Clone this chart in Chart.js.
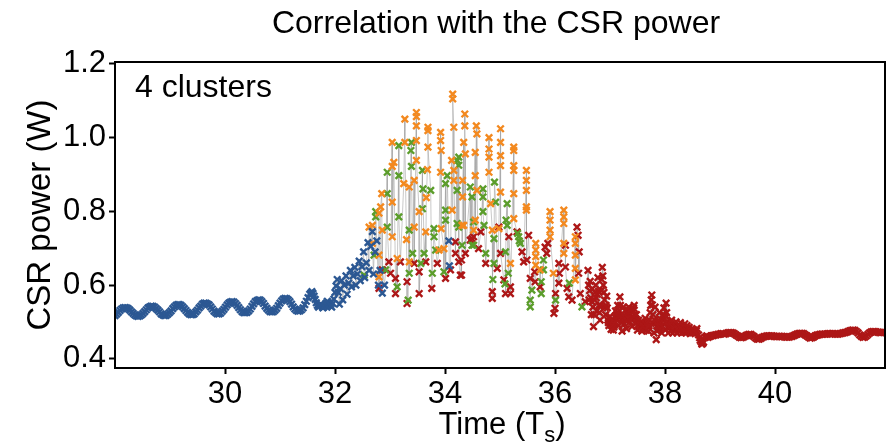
<!DOCTYPE html>
<html>
<head>
<meta charset="utf-8">
<script src="https://cdn.jsdelivr.net/npm/chart.js@4.4.1/dist/chart.umd.min.js"></script>
<style>
  html, body { margin: 0; padding: 0; background: #fff; }
  #wrap { width: 892px; height: 447px; }
</style>
</head>
<body>
<div id="wrap"><canvas id="c" width="892" height="447"></canvas></div>
<script>
// CSR power vs time, points coloured by cluster (4 clusters), thin grey trace through all samples.

const TITLE = 'Correlation with the CSR power';
const PANEL_LABEL = '4 clusters';
const X_TICKS = [30, 32, 34, 36, 38, 40];
const Y_TICKS = [0.4, 0.6, 0.8, 1.0, 1.2];

// [time (Ts), power (W)]
const blue = [
  [28.00,.517],[28.03,.521],[28.06,.526],[28.09,.531],[28.12,.535],[28.15,.538],[28.18,.539],[28.21,.538],
  [28.24,.536],[28.27,.532],[28.30,.527],[28.33,.523],[28.36,.519],[28.39,.516],[28.42,.515],[28.45,.516],
  [28.48,.519],[28.51,.523],[28.54,.528],[28.57,.533],[28.60,.538],[28.63,.541],[28.66,.543],[28.69,.542],
  [28.72,.540],[28.75,.536],[28.78,.532],[28.81,.527],[28.84,.522],[28.87,.519],[28.90,.517],[28.93,.518],
  [28.96,.521],[28.99,.525],[29.02,.530],[29.05,.536],[29.08,.541],[29.11,.545],[29.14,.547],[29.17,.547],
  [29.20,.545],[29.23,.541],[29.26,.536],[29.29,.531],[29.32,.526],[29.35,.522],[29.38,.520],[29.41,.520],
  [29.44,.522],[29.47,.527],[29.50,.532],[29.53,.538],[29.56,.543],[29.59,.548],[29.62,.551],[29.65,.551],
  [29.68,.549],[29.71,.546],[29.74,.541],[29.77,.535],[29.80,.529],[29.83,.525],[29.86,.522],[29.89,.522],
  [29.92,.524],[29.95,.529],[29.98,.534],[30.01,.540],[30.04,.546],[30.07,.551],[30.10,.554],[30.13,.555],
  [30.16,.554],[30.19,.550],[30.22,.545],[30.25,.539],[30.28,.533],[30.31,.528],[30.34,.525],[30.37,.525],
  [30.40,.526],[30.43,.530],[30.46,.535],[30.49,.542],[30.52,.549],[30.55,.555],[30.58,.558],[30.61,.560],
  [30.64,.559],[30.67,.555],[30.70,.550],[30.73,.543],[30.76,.537],[30.79,.532],[30.82,.528],[30.85,.527],
  [30.88,.528],[30.91,.532],[30.94,.537],[30.97,.544],[31.00,.551],[31.03,.557],[31.06,.562],[31.09,.564],
  [31.12,.563],[31.15,.560],[31.18,.555],[31.21,.548],[31.24,.541],[31.27,.535],[31.30,.531],[31.33,.529],
  [31.36,.530],[31.39,.533],[31.42,.538],[31.45,.547],[31.48,.556],[31.51,.566],[31.54,.575],[31.56,.579],
  [31.58,.582],[31.60,.577],[31.62,.570],[31.64,.561],[31.66,.552],[31.68,.545],[31.70,.540],[31.72,.544],
  [31.74,.548],[31.76,.543],[31.78,.538],[31.80,.541],[31.82,.545],[31.84,.551],[31.86,.556],[31.88,.552],
  [31.90,.548],[31.92,.544],[31.94,.540],[31.96,.550],[31.98,.562],[32.00,.580],[32.02,.598],
  [32.04,.615],[32.06,.580],[32.08,.548],[32.10,.590],[32.12,.612],[32.14,.560],[32.17,.600],[32.20,.625],
  [32.22,.575],[32.25,.605],[32.28,.640],[32.30,.595],[32.33,.625],[32.36,.648],[32.38,.600],[32.41,.630],
  [32.44,.665],[32.46,.612],[32.49,.650],[32.52,.690],[32.54,.620],[32.57,.660],[32.60,.715],[32.62,.640],
  [32.65,.705],[32.68,.745],[32.70,.630],[32.73,.690],[32.76,.720],[32.79,.600],[32.82,.640],[32.86,.578],
  [32.90,.600],[34.07,.720],[34.08,.652]
];

const orange = [
  [32.62,.757],[32.68,.762],[32.68,.713],[32.80,.795],[32.80,.681],[32.80,.622],[32.83,.812],[32.85,.848],
  [32.86,.749],[33.04,.987],[33.04,.922],[33.04,.825],[33.04,.731],[33.07,.933],[33.13,.672],[33.25,.875],
  [33.27,1.050],[33.27,.987],[33.30,.723],[33.35,.866],[33.35,.663],[33.44,.884],[33.44,.757],[33.48,1.068],
  [33.48,1.057],[33.48,1.032],[33.48,.992],[33.48,.938],[33.53,.799],[33.65,.744],[33.66,.837],[33.68,.913],
  [33.69,1.028],[33.69,1.019],[33.69,.974],[33.89,.695],[33.92,1.014],[33.92,.992],[33.92,.906],[33.93,.965],
  [33.93,.753],[33.98,.699],[34.12,.938],[34.13,.803],[34.14,1.118],[34.14,1.105],[34.16,1.028],[34.16,.911],
  [34.16,.884],[34.31,.762],[34.32,.884],[34.32,.839],[34.34,.987],[34.34,.762],[34.36,1.064],[34.36,1.032],
  [34.37,.956],[34.52,.749],[34.55,.960],[34.55,.897],[34.55,.776],[34.57,1.032],[34.58,1.010],[34.58,.857],
  [34.80,1.000],[34.80,.969],[34.80,.947],[34.80,.906],[34.83,.821],[34.86,.749],[34.98,.753],[35.01,1.024],
  [35.01,.987],[35.01,.951],[35.01,.924],[35.01,.852],[35.19,.659],[35.25,.974],[35.25,.965],[35.25,.924],
  [35.25,.911],[35.25,.848],[35.25,.780],[35.48,.911],[35.48,.884],[35.48,.857],[35.48,.812],[35.48,.803],
  [35.65,.713],[35.65,.695],[35.65,.677],[35.65,.654],[35.73,.641],[35.91,.799],[35.91,.776],[35.91,.749],
  [35.91,.731],[35.97,.632],[36.16,.803],[36.16,.785],[36.16,.767],[36.16,.713],[36.16,.686],[36.37,.731],
  [36.37,.713],[36.37,.681],[36.37,.645],[36.37,.614]
];

const green = [
  [32.53,.627],[32.71,.681],[32.74,.799],[32.74,.785],[32.92,.641],[32.95,.906],[32.95,.848],[32.95,.757],
  [33.13,.595],[33.16,.978],[33.16,.897],[33.16,.785],[33.33,.559],[33.35,.749],[33.35,.632],[33.38,.965],
  [33.39,.987],[33.39,.922],[33.41,.686],[33.56,.659],[33.59,.911],[33.59,.807],[33.60,.861],[33.62,.686],
  [33.74,.857],[33.77,.632],[33.80,.753],[33.80,.731],[33.83,.695],[33.98,.636],[34.01,.875],[34.01,.803],
  [34.01,.776],[34.04,.897],[34.22,.938],[34.22,.857],[34.22,.767],[34.25,.947],[34.25,.925],[34.25,.757],
  [34.31,.708],[34.46,.866],[34.49,.839],[34.49,.708],[34.52,.771],[34.52,.708],[34.69,.861],[34.69,.839],
  [34.69,.799],[34.71,.762],[34.74,.686],[34.87,.615],[34.89,.726],[34.89,.659],[34.90,.879],[34.92,.825],
  [35.09,.603],[35.10,.690],[35.11,.776],[35.13,.821],[35.13,.762],[35.15,.632],[35.32,.740],[35.34,.731],
  [35.35,.720],[35.37,.713],[35.55,.559],[35.55,.541],[35.58,.586],[35.75,.609],[35.75,.577],[35.79,.668],
  [35.79,.641],[36.01,.559],[36.26,.605],[36.49,.541]
];

const red = [
  [32.80,.591],[32.86,.641],[32.98,.663],[33.01,.632],[33.10,.618],[33.10,.577],[33.19,.663],[33.31,.609],
  [33.31,.550],[33.44,.659],[33.53,.636],[33.53,.577],[33.65,.663],[33.76,.591],[33.86,.659],[34.01,.618],
  [34.10,.641],[34.19,.717],[34.19,.686],[34.25,.663],[34.28,.627],[34.30,.668],[34.30,.627],[34.37,.686],
  [34.46,.722],[34.49,.726],[34.52,.731],[34.61,.699],[34.65,.744],[34.74,.659],[34.86,.582],[34.86,.564],
  [34.95,.645],[34.98,.757],[35.01,.686],[35.07,.614],[35.10,.577],[35.16,.731],[35.19,.595],[35.19,.577],
  [35.31,.744],[35.40,.690],[35.43,.663],[35.49,.668],[35.52,.735],[35.55,.618],[35.63,.636],[35.64,.609],
  [35.73,.595],[35.82,.703],[35.85,.686],[35.87,.713],[35.98,.523],[36.00,.537],[36.01,.577],[36.07,.659],
  [36.07,.605],[36.08,.632],[36.19,.708],[36.19,.649],[36.22,.591],[36.25,.568],[36.31,.559],[36.40,.757],
  [36.42,.735],[36.44,.690],[36.43,.632],[36.46,.577],[36.55,.555],
  [36.60,.640],[36.61,.600],[36.62,.560],[36.63,.585],[36.64,.610],[36.65,.565],[36.66,.520],[36.67,.555],
  [36.68,.590],[36.69,.540],[36.70,.487],[36.71,.520],[36.72,.560],[36.73,.580],[36.74,.600],[36.75,.565],
  [36.76,.530],[36.77,.575],[36.78,.620],[36.79,.583],[36.80,.545],[36.81,.525],[36.82,.505],[36.83,.545],
  [36.84,.585],[36.85,.615],[36.86,.648],[36.87,.625],[36.88,.600],[36.89,.580],[36.90,.560],[36.91,.540],
  [36.92,.520],[36.93,.545],[36.94,.570],[36.95,.538],[36.96,.505],[36.97,.498],[36.98,.490],
  [37.00,.515],[37.01,.498],[37.02,.480],[37.03,.490],[37.04,.500],[37.05,.488],[37.06,.478],[37.07,.486],
  [37.08,.495],[37.09,.512],[37.10,.530],[37.11,.518],[37.12,.505],[37.13,.525],[37.14,.545],[37.15,.515],
  [37.16,.490],[37.17,.530],[37.18,.568],[37.19,.545],[37.20,.520],[37.21,.498],[37.22,.475],[37.23,.508],
  [37.24,.540],[37.25,.518],[37.26,.495],[37.27,.512],[37.28,.530],[37.29,.505],[37.30,.482],[37.31,.503],
  [37.32,.525],[37.33,.532],[37.34,.540],[37.35,.520],[37.36,.500],[37.37,.518],[37.38,.535],[37.39,.512],
  [37.40,.488],[37.41,.508],[37.42,.530],[37.43,.537],[37.44,.545],[37.45,.520],[37.46,.495],[37.47,.508],
  [37.48,.520],[37.49,.499],[37.50,.478],[37.51,.490],[37.52,.505],[37.53,.494],[37.54,.483],[37.55,.492],
  [37.56,.500],[37.57,.488],[37.58,.475],[37.59,.486],[37.60,.498],[37.61,.489],[37.62,.480],[37.63,.495],
  [37.64,.510],[37.65,.494],[37.66,.478],[37.67,.489],[37.68,.500],[37.69,.488],[37.70,.475],[37.71,.490],
  [37.72,.505],[37.73,.525],[37.74,.545],[37.75,.560],[37.76,.573],[37.77,.546],[37.78,.520],[37.79,.495],
  [37.80,.470],[37.81,.505],[37.82,.540],[37.83,.496],[37.84,.452],[37.85,.476],[37.86,.500],[37.87,.490],
  [37.88,.480],[37.89,.502],[37.90,.525],[37.91,.508],[37.92,.490],[37.93,.480],[37.94,.470],[37.95,.488],
  [37.96,.505],[37.97,.521],[37.98,.538],[37.99,.509],[38.00,.480],[38.01,.515],[38.02,.551],[38.03,.525],
  [38.04,.500],[38.05,.485],[38.06,.470],[38.07,.483],[38.08,.495],[38.09,.487],[38.10,.478],[38.11,.492],
  [38.12,.505],[38.13,.488],[38.14,.470],[38.15,.480],[38.16,.490],[38.17,.483],[38.18,.475],[38.19,.488],
  [38.20,.500],[38.21,.485],[38.22,.470],[38.23,.481],[38.24,.492],[38.25,.484],[38.26,.475],[38.27,.487],
  [38.28,.498],[38.29,.484],[38.30,.470],[38.31,.479],[38.32,.488],[38.33,.480],[38.34,.472],[38.35,.484],
  [38.36,.495],[38.37,.483],[38.38,.470],[38.39,.480],[38.40,.490],[38.41,.483],[38.42,.475],[38.43,.480],
  [38.44,.485],[38.45,.477],[38.46,.468],[38.47,.474],[38.48,.480],[38.49,.475],[38.50,.470],[38.51,.474],
  [38.52,.478],[38.53,.474],[38.55,.470],[38.57,.476],[38.58,.482],[38.61,.465],[38.63,.457],[38.64,.450],
  [38.66,.445],[38.67,.440],[38.69,.442],[38.70,.445],[38.73,.458],[38.75,.460],[38.76,.462],
  [38.78,.458],[38.81,.460],[38.84,.462],[38.87,.463],[38.90,.464],[38.93,.465],[38.96,.466],[38.99,.467],
  [39.02,.468],[39.05,.468],[39.08,.467],[39.11,.468],[39.14,.470],[39.17,.471],[39.20,.471],[39.23,.470],
  [39.26,.468],[39.29,.465],[39.32,.462],[39.35,.459],[39.38,.457],[39.41,.458],[39.44,.460],[39.47,.463],
  [39.50,.465],[39.53,.466],[39.56,.466],[39.59,.463],[39.62,.460],[39.65,.456],[39.68,.453],[39.71,.453],
  [39.74,.455],[39.77,.458],[39.80,.460],[39.83,.461],[39.86,.462],[39.89,.462],[39.92,.462],[39.95,.462],
  [39.98,.461],[40.01,.460],[40.04,.460],[40.07,.461],[40.10,.461],[40.13,.461],[40.16,.460],[40.19,.459],
  [40.22,.459],[40.25,.459],[40.28,.460],[40.31,.461],[40.34,.463],[40.37,.465],[40.40,.467],[40.43,.468],
  [40.46,.469],[40.49,.469],[40.52,.468],[40.55,.465],[40.58,.462],[40.61,.459],[40.64,.456],[40.67,.457],
  [40.70,.459],[40.73,.462],[40.76,.464],[40.79,.465],[40.82,.466],[40.85,.467],[40.88,.467],[40.91,.467],
  [40.94,.467],[40.97,.468],[41.00,.468],[41.03,.468],[41.06,.468],[41.09,.467],[41.12,.467],[41.15,.467],
  [41.18,.468],[41.21,.469],[41.24,.470],[41.27,.471],[41.30,.472],[41.33,.474],[41.36,.476],[41.39,.477],
  [41.42,.478],[41.45,.477],[41.48,.474],[41.51,.470],[41.54,.465],[41.57,.461],[41.60,.458],[41.63,.459],
  [41.66,.462],[41.69,.466],[41.72,.470],[41.75,.473],[41.78,.474],[41.81,.474],[41.84,.473],[41.87,.472],
  [41.90,.471],[41.93,.471],[41.96,.472],[41.99,.472]
];

const FONT = '"Liberation Sans", Arial, sans-serif';
const toXY = arr => arr.map(([x, y]) => ({ x, y }));
const trace = toXY([...blue, ...orange, ...green, ...red].sort((a, b) => a[0] - b[0]));

function clusterSet(label, pts, color) {
  return {
    label, data: toXY(pts), showLine: false,
    pointStyle: 'crossRot', pointRadius: 4.6, pointBorderWidth: 2.4,
    borderColor: color, backgroundColor: color, order: 1,
  };
}

const overlay = {
  id: 'overlay',
  afterDraw(chart) {
    const { ctx, chartArea: a } = chart;
    ctx.save();
    ctx.strokeStyle = '#000';
    ctx.lineWidth = 2;
    ctx.strokeRect(a.left, a.top, a.right - a.left, a.bottom - a.top);

    ctx.fillStyle = '#000';
    ctx.textBaseline = 'alphabetic';
    ctx.font = '32px ' + FONT;
    ctx.textAlign = 'center';
    ctx.fillText(TITLE, 496, 33);
    ctx.textAlign = 'left';
    ctx.fillText(PANEL_LABEL, a.left + 20, 97);

    // x title with subscript
    const main = '31px ' + FONT, sub = '22px ' + FONT;
    ctx.font = main; const w1 = ctx.measureText('Time (T').width, w3 = ctx.measureText(')').width;
    ctx.font = sub; const w2 = ctx.measureText('s').width;
    let x = 502 - (w1 + w2 + w3) / 2;
    const base = 434;
    ctx.font = main; ctx.fillText('Time (T', x, base); x += w1;
    ctx.font = sub; ctx.fillText('s', x, base + 8); x += w2;
    ctx.font = main; ctx.fillText(')', x, base);

    // y title
    ctx.translate(50, (a.top + a.bottom) / 2);
    ctx.rotate(-Math.PI / 2);
    ctx.textAlign = 'center';
    ctx.font = '33px ' + FONT;
    ctx.fillText('CSR power (W)', 0, 0);
    ctx.restore();
  }
};

const tickGrid = { display: true, drawOnChartArea: false, drawTicks: true, tickLength: 6, tickWidth: 2, tickColor: '#000' };

new Chart(document.getElementById('c').getContext('2d'), {
  type: 'scatter',
  data: {
    datasets: [
      { label: 'trace', data: trace, showLine: true, pointRadius: 0, borderColor: 'rgba(165,165,165,0.75)', borderWidth: 0.8, order: 2 },
      clusterSet('cluster 1', blue, '#2c5893'),
      clusterSet('cluster 2', orange, '#f3891f'),
      clusterSet('cluster 3', green, '#5b9d2b'),
      clusterSet('cluster 4', red, '#ad1717'),
    ],
  },
  options: {
    responsive: false, animation: false,
    layout: { padding: { top: 62, right: 6, bottom: 0, left: 0 } },
    plugins: { legend: { display: false }, tooltip: { enabled: false } },
    scales: {
      x: {
        type: 'linear', min: 28, max: 42,
        afterBuildTicks: s => { s.ticks = X_TICKS.map(v => ({ value: v })); },
        afterFit: s => { s.height = 79; },
        grid: tickGrid, border: { display: false },
        ticks: { color: '#000', font: { family: FONT, size: 31 }, padding: 2, maxRotation: 0, callback: v => String(v) },
      },
      y: {
        min: 0.375, max: 1.205,
        afterBuildTicks: s => { s.ticks = Y_TICKS.map(v => ({ value: v })); },
        afterFit: s => { s.width = 115; },
        grid: tickGrid, border: { display: false },
        ticks: { color: '#000', font: { family: FONT, size: 31 }, padding: 3, callback: v => v.toFixed(1) },
      },
    },
  },
  plugins: [overlay],
});
</script>
</body>
</html>
